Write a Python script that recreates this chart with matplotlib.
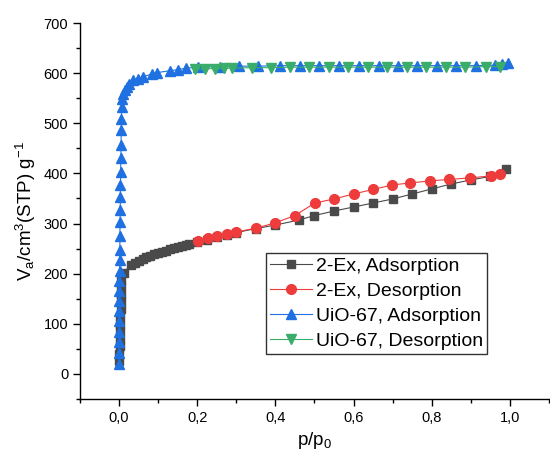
import numpy as np
import matplotlib.pyplot as plt
from matplotlib.ticker import MultipleLocator, FuncFormatter

plt.rcParams["font.family"] = ["Liberation Sans", "DejaVu Sans"]
plt.rcParams["mathtext.default"] = "regular"

# 2-Ex adsorption
ex_ads_x = [0.0005, 0.001, 0.0015, 0.002, 0.0025, 0.003, 0.0035, 0.004, 0.0045, 0.005, 0.0055, 0.006,
            0.012, 0.03, 0.04, 0.05, 0.06, 0.07, 0.08, 0.09, 0.10, 0.11, 0.12, 0.13, 0.14, 0.15,
            0.16, 0.17, 0.18, 0.20, 0.225, 0.25, 0.275, 0.30, 0.35, 0.40, 0.46, 0.50, 0.55, 0.60,
            0.65, 0.70, 0.75, 0.80, 0.85, 0.90, 0.95, 0.99]
ex_ads_y = [25, 40, 55, 70, 85, 100, 115, 130, 145, 160, 175, 188,
            202, 218, 222, 226, 230, 233, 236, 239, 241, 244, 246, 249, 251, 253,
            255, 257, 259, 263, 268, 273, 277, 282, 290, 297, 307, 316, 325, 333,
            341, 349, 359, 369, 379, 387, 394, 408]

# 2-Ex desorption
ex_des_x = [0.974, 0.951, 0.897, 0.844, 0.795, 0.745, 0.699, 0.650, 0.600, 0.550, 0.501, 0.45,
            0.398, 0.351, 0.298, 0.276, 0.251, 0.228, 0.202]
ex_des_y = [399, 395, 391, 388, 385, 381, 377, 368, 359, 349, 341, 316,
            301, 291, 283, 279, 275, 271, 266]

# UiO-67 adsorption
uio_ads_x = [0.0, 0.0, 0.0, 0.0005, 0.0005, 0.0005, 0.001, 0.001, 0.001, 0.0015, 0.0015, 0.002,
             0.002, 0.0025, 0.003, 0.003, 0.0035, 0.004, 0.0045, 0.005, 0.0055, 0.006, 0.0065,
             0.008, 0.010, 0.015, 0.019, 0.026, 0.036, 0.049, 0.061, 0.083, 0.097, 0.130, 0.151,
             0.172, 0.202, 0.258, 0.306, 0.355, 0.411, 0.462, 0.512, 0.563, 0.613, 0.664, 0.714,
             0.763, 0.813, 0.863, 0.914, 0.961, 0.981, 0.995]
uio_ads_y = [19, 41, 63, 83, 106, 126, 146, 166, 186, 206, 227, 247,
             276, 303, 327, 353, 376, 403, 431, 456, 486, 509, 533,
             549, 559, 566, 573, 579, 586, 589, 593, 598, 601, 605, 607,
             610, 612, 613, 614, 614, 615, 615, 615, 615, 615, 615, 615,
             615, 615, 615, 615, 616, 618, 620]

# UiO-67 desorption
uio_des_x = [0.974, 0.940, 0.886, 0.837, 0.786, 0.737, 0.686, 0.637, 0.586, 0.537, 0.486, 0.437,
             0.39, 0.339, 0.29, 0.268, 0.245, 0.219, 0.194]
uio_des_y = [613, 613, 612, 612, 612, 612, 612, 612, 612, 612, 612, 612,
             611, 611, 610, 610, 609, 609, 608]

fig = plt.figure(figsize=(5.5, 4.61), dpi=100)
ax = fig.add_axes([0.1455, 0.1345, 0.8525, 0.8155])

ax.plot(ex_ads_x, ex_ads_y, color="#4a4a4a", lw=0.8, marker="s", ms=5.5, label="2-Ex, Adsorption")
ax.plot(ex_des_x, ex_des_y, color="#ee3b3b", lw=0.8, marker="o", ms=7, label="2-Ex, Desorption")
ax.plot(uio_ads_x, uio_ads_y, color="#1f70e0", lw=0.8, marker="^", ms=7.5, label="UiO-67, Adsorption")
ax.plot(uio_des_x, uio_des_y, color="#3aad6a", lw=0.8, marker="v", ms=7.5, label="UiO-67, Desorption")

ax.set_xlim(-0.1, 1.1)
ax.set_ylim(-50, 700)
ax.spines["top"].set_visible(False)
ax.spines["right"].set_visible(False)
ax.spines["left"].set_linewidth(1.0)
ax.spines["bottom"].set_linewidth(1.0)

ax.xaxis.set_major_locator(MultipleLocator(0.2))
ax.xaxis.set_minor_locator(MultipleLocator(0.1))
ax.yaxis.set_major_locator(MultipleLocator(100))
ax.yaxis.set_minor_locator(MultipleLocator(50))
ax.xaxis.set_major_formatter(FuncFormatter(lambda v, p: ("%.1f" % v).replace(".", ",")))
ax.tick_params(which="major", direction="out", length=5, width=1, labelsize=10.5)
ax.tick_params(which="minor", direction="out", length=3, width=1)

ax.set_xlabel("p/p$_0$", fontsize=13.5)
ax.set_ylabel("V$_a$/cm$^3$(STP) g$^{-1}$", fontsize=13.5)

leg = ax.legend(loc="upper left", bbox_to_anchor=(0.396, 0.388), borderaxespad=0,
                fontsize=14, frameon=True, fancybox=False, edgecolor="black",
                labelspacing=0.38, handlelength=2.2, handletextpad=0.2, borderpad=0.2)
leg.get_frame().set_linewidth(1.0)

plt.savefig("out.png", dpi=100)
